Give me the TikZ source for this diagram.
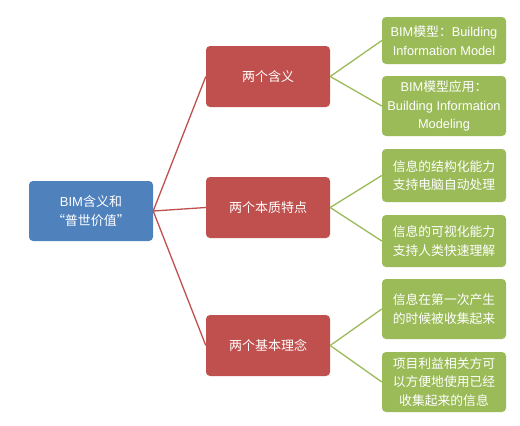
\documentclass[tikz,border=0pt]{standalone}
\usepackage{fontspec}
\setmainfont{Noto Sans CJK SC}
\newfontfamily\latinfont{Liberation Sans}
\usepackage{xcolor}
\usetikzlibrary{positioning}
\definecolor{rootblue}{HTML}{4F81BD}
\definecolor{midred}{HTML}{C0504D}
\definecolor{leafgreen}{HTML}{9BBB59}
\newcommand{\lat}[1]{{\latinfont #1}}
\tikzset{
  root/.style={fill=rootblue, draw=none, rounded corners=4pt, text=white,
               minimum width=124pt, minimum height=60pt, align=center,
               font=\fontsize{13}{19}\selectfont},
  mid/.style={fill=midred, draw=none, rounded corners=4pt, text=white,
              minimum width=124pt, minimum height=61pt, align=center,
              font=\fontsize{13}{19}\selectfont},
  leaf/.style={fill=leafgreen, draw=none, rounded corners=4pt, text=white,
               minimum width=124pt, align=center, inner xsep=2pt,
               font=\fontsize{12.8}{18.5}\selectfont},
  redline/.style={draw=midred, line width=1.3pt},
  greenline/.style={draw=leafgreen, line width=1.3pt}
}

\begin{document}
\begin{tikzpicture}[x=1pt, y=-1pt]
  \useasboundingbox (0,0) rectangle (520,426);
  \node[root] (bim) at (91,211) {\lat{BIM}含义和\\“普世价值”};
  \node[mid] (meaning) at (268,76.5) {两个含义};
  \node[mid] (nature)  at (268,207.5) {两个本质特点};
  \node[mid] (idea)    at (268,345.5) {两个基本理念};
  \node[leaf, minimum height=47pt] (model) at (444,40.5)
    {\lat{BIM}模型：\lat{Building}\\\lat{Information Model}};
  \node[leaf, minimum height=60pt] (modeling) at (444,106)
    {\lat{BIM}模型应用：\\\lat{Building Information}\\\lat{Modeling}};
  \node[leaf, minimum height=53pt] (struct) at (444,175.5) {信息的结构化能力\\支持电脑自动处理};
  \node[leaf, minimum height=52pt] (visual) at (444,241) {信息的可视化能力\\支持人类快速理解};
  \node[leaf, minimum height=60pt] (collect) at (444,309) {信息在第一次产生\\的时候被收集起来};
  \node[leaf, minimum height=60pt] (reuse) at (444,382) {项目利益相关方可\\以方便地使用已经\\收集起来的信息};
  \draw[redline] (bim.east) -- (meaning.west);
  \draw[redline] (bim.east) -- (nature.west);
  \draw[redline] (bim.east) -- (idea.west);
  \draw[greenline] (meaning.east) -- (model.west);
  \draw[greenline] (meaning.east) -- (modeling.west);
  \draw[greenline] (nature.east) -- (struct.west);
  \draw[greenline] (nature.east) -- (visual.west);
  \draw[greenline] (idea.east) -- (collect.west);
  \draw[greenline] (idea.east) -- (reuse.west);
\end{tikzpicture}
\end{document}
